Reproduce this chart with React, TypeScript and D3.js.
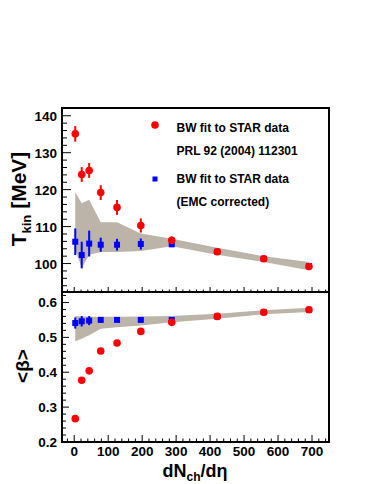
import React from "react";
import * as d3 from "d3";

// dNch/deta bins
const dnch = [3, 22, 44, 78, 126, 196, 287, 421, 558, 691];

// T_kin (MeV)
const tkinRed = [135.1, 124.1, 125.2, 119.2, 115.2, 110.3, 106.3, 103.2, 101.3, 99.2];
const tkinRedErr = [2.1, 2.0, 2.0, 2.0, 2.0, 1.9, 1.0, 0.8, 0.8, 0.8];
const tkinBlue = [105.9, 102.3, 105.4, 105.1, 105.1, 105.3, 105.2, 103.2, 101.3, 99.3];
const tkinBlueErr = [3.6, 3.6, 3.5, 1.9, 1.6, 1.5, 0.6, 0.5, 0.5, 0.5];
const tkinBandLo = [103.8, 98.8, 102.4, 103.1, 103.1, 103.4, 104.7, 102.4, 100.4, 98.2];
const tkinBandHi = [119.3, 116.3, 117.3, 111.2, 111.2, 108.1, 106.7, 104.3, 102.0, 100.4];

// <beta>
const betaRed = [0.267, 0.377, 0.404, 0.461, 0.484, 0.517, 0.543, 0.56, 0.572, 0.579];
const betaBlue = [0.541, 0.546, 0.548, 0.55, 0.55, 0.55, 0.55, 0.56, 0.572, 0.579];
const betaBlueErr = [0.016, 0.015, 0.013, 0.005, 0.004, 0.004, 0.003, 0.003, 0.003, 0.003];
const betaBandLo = [0.489, 0.496, 0.506, 0.525, 0.529, 0.534, 0.543, 0.553, 0.566, 0.573];
const betaBandHi = [0.561, 0.56, 0.559, 0.559, 0.559, 0.56, 0.561, 0.568, 0.578, 0.585];

const xTicks = [0, 100, 200, 300, 400, 500, 600, 700];
const tkinTicks = [100, 110, 120, 130, 140];
const betaTicks = [0.2, 0.3, 0.4, 0.5, 0.6];

const FONT = "'Liberation Sans', Arial, Helvetica, sans-serif";
const BAND = "#bcb3a9";

const L = 62, R = 329, T = 108, M = 292, B = 442;

const App = () => {
  const x = d3.scaleLinear().domain([-36, 750]).range([L, R]);
  const yT = d3.scaleLinear().domain([92.3, 142.1]).range([M, T]);
  const yB = d3.scaleLinear().domain([0.2, 0.63]).range([B, M]);

  const idx = d3.range(dnch.length);

  const areaT = d3.area<number>()
    .x((i) => x(dnch[i]))
    .y0((i) => yT(tkinBandLo[i]))
    .y1((i) => yT(tkinBandHi[i]));
  const areaB = d3.area<number>()
    .x((i) => x(dnch[i]))
    .y0((i) => yB(betaBandLo[i]))
    .y1((i) => yB(betaBandHi[i]));

  // minor ticks
  const xMinor = d3.range(-20, 751, 20).filter((v) => v % 100 !== 0);
  const tMinor = d3.range(94, 142.1, 2).filter((v) => v % 10 !== 0);
  const bMinor = d3.range(0.22, 0.63, 0.02).filter((v) => Math.abs(v * 10 - Math.round(v * 10)) > 0.01);

  return (
    <svg width={374} height={484} style={{ position: "absolute", left: 0, top: 0, background: "#fff" }}
      fontFamily={FONT} fontWeight="bold">
      {/* bands */}
      <path d={areaT(idx) || ""} fill={BAND} />
      <path d={areaB(idx) || ""} fill={BAND} />

      {/* top panel: blue then red */}
      {idx.map((i) => (
        <g key={"tb" + i}>
          <line x1={x(dnch[i])} x2={x(dnch[i])} y1={yT(tkinBlue[i] - tkinBlueErr[i])} y2={yT(tkinBlue[i] + tkinBlueErr[i])}
            stroke="#0000ff" strokeWidth={2} />
          <rect x={x(dnch[i]) - 3} y={yT(tkinBlue[i]) - 3} width={6} height={6} fill="#0000ff" />
        </g>
      ))}
      {idx.map((i) => (
        <g key={"tr" + i}>
          <line x1={x(dnch[i])} x2={x(dnch[i])} y1={yT(tkinRed[i] - tkinRedErr[i])} y2={yT(tkinRed[i] + tkinRedErr[i])}
            stroke="#ff0000" strokeWidth={2} />
          <circle cx={x(dnch[i])} cy={yT(tkinRed[i])} r={3.8} fill="#ff0000" />
        </g>
      ))}

      {/* bottom panel */}
      {idx.map((i) => (
        <g key={"bb" + i}>
          <line x1={x(dnch[i])} x2={x(dnch[i])} y1={yB(betaBlue[i] - betaBlueErr[i])} y2={yB(betaBlue[i] + betaBlueErr[i])}
            stroke="#0000ff" strokeWidth={2} />
          <rect x={x(dnch[i]) - 3} y={yB(betaBlue[i]) - 3} width={6} height={6} fill="#0000ff" />
        </g>
      ))}
      {idx.map((i) => (
        <circle key={"br" + i} cx={x(dnch[i])} cy={yB(betaRed[i])} r={3.8} fill="#ff0000" />
      ))}

      {/* frames */}
      <rect x={L} y={T} width={R - L} height={M - T} fill="none" stroke="#000" strokeWidth={2} />
      <rect x={L} y={M} width={R - L} height={B - M} fill="none" stroke="#000" strokeWidth={2} />

      {/* x ticks top panel */}
      {xTicks.map((v) => <line key={"xtt" + v} x1={x(v)} x2={x(v)} y1={M} y2={M - 5} stroke="#000" />)}
      {xMinor.map((v) => <line key={"xtm" + v} x1={x(v)} x2={x(v)} y1={M} y2={M - 2.5} stroke="#000" />)}
      {/* x ticks bottom panel */}
      {xTicks.map((v) => <line key={"xbt" + v} x1={x(v)} x2={x(v)} y1={B} y2={B - 7} stroke="#000" />)}
      {xMinor.map((v) => <line key={"xbm" + v} x1={x(v)} x2={x(v)} y1={B} y2={B - 3.5} stroke="#000" />)}
      {xTicks.map((v) => (
        <text key={"xl" + v} x={x(v)} y={455.5} fontSize={13.5} textAnchor="middle">{v}</text>
      ))}

      {/* y ticks top */}
      {tkinTicks.map((v) => <line key={"ytt" + v} x1={L} x2={L + 9} y1={yT(v)} y2={yT(v)} stroke="#000" />)}
      {tMinor.map((v) => <line key={"ytm" + v} x1={L} x2={L + 5} y1={yT(v)} y2={yT(v)} stroke="#000" />)}
      {tkinTicks.map((v) => (
        <text key={"ytl" + v} x={57} y={yT(v) + 5} fontSize={13.5} textAnchor="end">{v}</text>
      ))}

      {/* y ticks bottom */}
      {betaTicks.map((v) => <line key={"ybt" + v} x1={L} x2={L + 7} y1={yB(v)} y2={yB(v)} stroke="#000" />)}
      {bMinor.map((v) => <line key={"ybm" + v} x1={L} x2={L + 4} y1={yB(v)} y2={yB(v)} stroke="#000" />)}
      {betaTicks.map((v) => (
        <text key={"ybl" + v} x={57} y={yB(v) + 5} fontSize={13.5} textAnchor="end">{v.toFixed(1)}</text>
      ))}

      {/* axis titles */}
      <text transform="translate(25.5,199) rotate(-90)" fontSize={21} textAnchor="middle">
        T<tspan fontSize={13} dy={5}>kin</tspan><tspan dy={-5}> [MeV]</tspan>
      </text>
      <text transform="translate(29,366) rotate(-90)" fontSize={19} textAnchor="middle">{"<β>"}</text>
      <text x={195} y={476.5} fontSize={18} textAnchor="middle">
        dN<tspan fontSize={12} dy={4}>ch</tspan><tspan dy={-4}>/dη</tspan>
      </text>

      {/* legend */}
      <circle cx={155} cy={125} r={3.8} fill="#ff0000" />
      <rect x={152.5} y={176.5} width={5} height={5} fill="#0000ff" />
      <text x={176.5} y={131.5} fontSize={12}>BW fit to STAR data</text>
      <text x={176.5} y={155} fontSize={12}>PRL 92 (2004) 112301</text>
      <text x={176.5} y={183.3} fontSize={12}>BW fit to STAR data</text>
      <text x={176.5} y={206} fontSize={12}>(EMC corrected)</text>
    </svg>
  );
};

export default App;
